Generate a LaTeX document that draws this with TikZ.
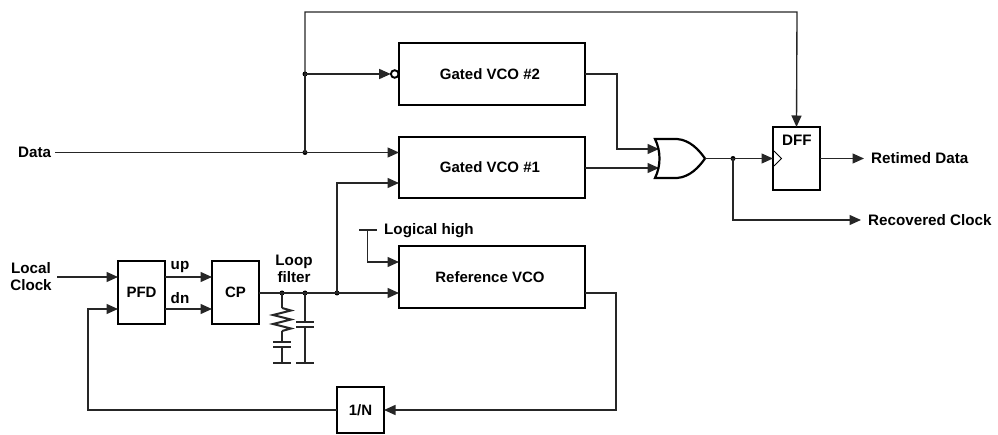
\documentclass[tikz,border=0pt]{standalone}
\usepackage{fontspec}
\setmainfont{Liberation Sans}
\usetikzlibrary{arrows.meta,calc}
\tikzset{
 x=1pt,y=-1pt,
 wire/.style={line width=1.35pt,draw=black!85,line join=miter},
 arr/.style={wire,-{Stealth[length=11.5pt,width=10pt,inset=0pt]}},
 blockbox/.style={draw=black,line width=2.6pt,outer sep=0pt,minimum width=#1,inner sep=0pt,font=\bfseries\fontsize{15}{18}\selectfont,anchor=north west,align=center},
 lbl/.style={font=\bfseries\fontsize{15.2}{18}\selectfont,inner sep=0pt,align=center},
 junc/.style={circle,fill=black,inner sep=0pt,minimum size=5pt},
 plate/.style={line width=2pt,draw=black!85},
}
\begin{document}
\begin{tikzpicture}
\useasboundingbox (0,0) rectangle (998,435);
% blocks
\node[blockbox=186pt,minimum height=62pt] (vco2) at (399,43) {\hspace*{-4pt}Gated VCO \#2};
\node[blockbox=186pt,minimum height=61pt] (vco1) at (399,137) {\hspace*{-4pt}Gated VCO \#1};
\node[blockbox=186pt,minimum height=62pt] (ref) at (399,246) {\hspace*{-4pt}Reference VCO};
\node[blockbox=47pt,minimum height=63pt] (pfd) at (118,261) {PFD};
\node[blockbox=47pt,minimum height=63pt] (cp) at (212,261) {CP};
\node[blockbox=47pt,minimum height=46pt] (divn) at (337,387) {1/N};
\node[blockbox=47pt,minimum height=63pt] (dff) at (773,127) {};
\node[lbl] (dfft) at (797,140) {DFF};
% labels
\node[lbl,anchor=west] (data) at (18,152) {Data};
\node[lbl] (lclk) at (31,276.5) {Local\\[-1pt]Clock};
\node[lbl,anchor=west] (rd) at (871,158.5) {Retimed Data};
\node[lbl,anchor=west] (rc) at (868,220) {Recovered Clock};
\node[lbl,anchor=west] (lh) at (384,230.5) {Logical high};
\node[lbl] (up) at (180,267) {up};
\node[lbl] (dn) at (180,298) {dn};
\node[lbl] (lf) at (294,268.5) {Loop\\[-1pt]filter};
% junctions
\node[junc] (jd) at (305,152.5) {};
\node[junc] (jv) at (305,74) {};
\node[junc] (jf1) at (282,293) {};
\node[junc] (jf2) at (305,293) {};
\node[junc] (jf3) at (337,293) {};
\node[junc] (jo) at (733,158.5) {};
% OR gate
\coordinate (ortl) at (655,139);
\coordinate (orbl) at (655,178);
\coordinate (ortip) at (705,158.5);
\coordinate (oria) at (659,149);
\coordinate (orib) at (659,168);
% data wires
\coordinate (ds) at (55,152.5);
\draw[arr] (ds) -- (vco1.west |- jd);
\draw[wire] (jd.center) -- (jv.center);
\coordinate (bub) at (394.7,74);
\draw[arr] (jv.center) -- ($(bub)+(-4,0)$);
\coordinate (tl) at (305,12);
\coordinate (tr) at (797,12);
\draw[arr] (jv.center) -- (tl) -- (tr) -- (dff.north);
% inversion bubble
\draw[line width=1.9pt,fill=white] (bub) circle (3.8pt);
% VCO to OR
\draw[arr] (vco2.east |- jv) -| (617,149) -- (oria);
\draw[arr] (vco1.east |- orib) -- (orib);
\draw[line width=2.2pt,line join=miter,fill=white] (ortl) -- (677,139) .. controls (690,140) and (699,150) .. (ortip)
  .. controls (699,167) and (690,177) .. (677,178) -- (orbl) .. controls (661,166) and (661,151) .. cycle;
% OR out
\draw[wire] (ortip) -- (jo.center);
\draw[arr] (jo.center) -- (dff.west |- jo);
\draw[arr] (jo.center) |- ($(rc.west)+(-7,0)$);
\draw[arr] (dff.east |- jo) -- ($(rd.west)+(-7,0)$);
% clock triangle
\draw[line width=1pt] (774,151) -- (781.5,158.5) -- (774,166);
% PLL
\coordinate (ls) at (57,277);
\draw[arr] (ls) -- (118,277);
\draw[arr] (pfd.east |- 0,277) -- (212,277);
\draw[arr] (pfd.east |- 0,309) -- (212,309);
\draw[arr] (cp.east |- jf1) -- (ref.west |- jf1);
\draw[arr] (jf3.center) |- (vco1.west |- 0,183);
% logical high
\coordinate (lhl) at (359,230.5);
\coordinate (lhr) at (377,230.5);
\draw[plate] (lhl) -- (lhr);
\draw[arr] (367.5,230.5) |- (ref.west |- 0,262);
% feedback
\draw[arr] (ref.east |- jf1) -| (616,410) -- (divn.east |- 0,410);
\draw[arr] (divn.west |- 0,410) -| (88,309) -- (pfd.west |- 0,309);
% filter
\coordinate (gr1) at (282,363);
\coordinate (gr2) at (305,363);
\draw[wire] (jf1.center) -- (282,308);
\draw[plate] (282,308) -- (291,310.5) -- (273,315) -- (291,319.5) -- (273,324) -- (291,328.5) -- (282,331);
\draw[wire] (282,331) -- (282,342);
\draw[wire] (282,347) -- (gr1);
\draw[wire] (jf2.center) -- (305,322);
\draw[wire] (305,327) -- (gr2);
\foreach \xa/\ya in {282/342,282/347,305/322,305/327,282/363,305/363}
  \draw[plate] (\xa-9,\ya) -- (\xa+9,\ya);
\end{tikzpicture}
\end{document}
